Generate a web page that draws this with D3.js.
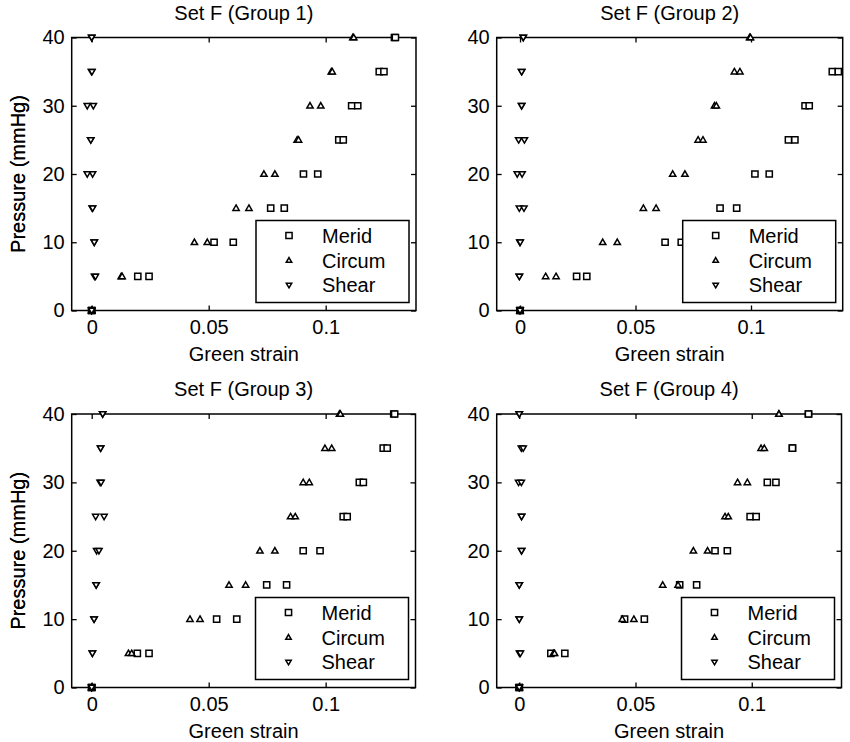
<!DOCTYPE html>
<html>
<head>
<meta charset="utf-8">
<script src="https://cdn.jsdelivr.net/npm/d3@7"></script>
<style>
  html, body { margin: 0; padding: 0; background: #fff; }
  svg { display: block; font-family: Arial, "Liberation Sans", Helvetica, sans-serif; }
</style>
</head>
<body>
<svg id="chart" width="850" height="742"></svg>
<script>
// Pressure steps shared by every group (mmHg)
const pressure = [0, 5, 10, 15, 20, 25, 30, 35, 40];

// Green strain, two measurements per pressure step: [first, second]
const g1Merid  = [[0,0],[0.0197,0.0245],[0.0523,0.0605],[0.0765,0.0823],[0.0905,0.0966],[0.1056,0.1075],[0.1111,0.1137],[0.1229,0.1249],[0.1294,0.1298]];
const g1Circum = [[0,0],[0.0126,0.0130],[0.0439,0.0494],[0.0617,0.0672],[0.0736,0.0783],[0.0878,0.0884],[0.0933,0.0979],[0.1024,0.1028],[0.1116,0.1120]];
const g1Shear  = [[0,0],[0.0012,0.0016],[0.0011,0.0011],[0.0002,0.0004],[-0.0019,0.0004],[-0.0004,-0.0004],[-0.0019,0.0007],[-0.0001,0.0001],[0,0]];

// Group 2 meridional strain at 40 mmHg lies beyond the x-limit
const g2Merid  = [[0,0],[0.0245,0.0289],[0.0628,0.0698],[0.0866,0.0938],[0.1017,0.1079],[0.1162,0.1190],[0.1234,0.1252],[0.1352,0.1378],[null,null]];
const g2Circum = [[0,0],[0.0111,0.0156],[0.0358,0.0421],[0.0534,0.0589],[0.0661,0.0714],[0.0771,0.0792],[0.0842,0.0850],[0.0928,0.0952],[0.0994,0.0998]];
const g2Shear  = [[0,0],[-0.0003,-0.0003],[-0.0001,0.0001],[-0.0003,0.0017],[-0.0012,0.0009],[-0.0006,0.0019],[0.0007,0.0007],[0.0007,0.0007],[0.0014,0.0014]];

const g3Merid  = [[0,0],[0.0195,0.0245],[0.0534,0.0620],[0.0748,0.0833],[0.0904,0.0976],[0.1075,0.1092],[0.1144,0.1161],[0.1246,0.1263],[0.1291,0.1295]];
const g3Circum = [[0,0],[0.0157,0.0171],[0.0420,0.0463],[0.0587,0.0658],[0.0719,0.0783],[0.0850,0.0870],[0.0904,0.0930],[0.0997,0.1026],[0.1059,0.1063]];
const g3Shear  = [[0,0],[0.0003,0.0003],[0.0010,0.0010],[0.0019,0.0019],[0.0021,0.0031],[0.0017,0.0053],[0.0036,0.0040],[0.0038,0.0038],[0.0047,0.0047]];

const g4Merid  = [[0,0],[0.0136,0.0196],[0.0453,0.0538],[0.0690,0.0763],[0.0842,0.0895],[0.0993,0.1019],[0.1067,0.1104],[0.1175,0.1175],[0.1244,0.1244]];
const g4Circum = [[0,0],[0.0147,0.0152],[0.0443,0.0493],[0.0617,0.0683],[0.0749,0.0810],[0.0885,0.0899],[0.0939,0.0981],[0.1040,0.1054],[0.1117,0.1117]];
const g4Shear  = [[0,0],[0.0001,0.0005],[0,0],[0,0],[0.0010,0.0010],[0.0010,0.0010],[-0.0003,0.0009],[0.0009,0.0017],[0,0]];

const titles = ["Set F (Group 1)", "Set F (Group 2)", "Set F (Group 3)", "Set F (Group 4)"];
const seriesNames = ["Merid", "Circum", "Shear"];
const xTicks = [0, 0.05, 0.1];
const yTicks = [0, 10, 20, 30, 40];
const xLimits = [[-0.00855, 0.1386], [-0.0101, 0.1397], [-0.00855, 0.1384], [-0.0097, 0.1386]];
const yLimits = [0, 40];

const groups = [
  [g1Merid, g1Circum, g1Shear],
  [g2Merid, g2Circum, g2Shear],
  [g3Merid, g3Circum, g3Shear],
  [g4Merid, g4Circum, g4Shear]
];

// Subplot frames (left, top, right, bottom)
const frames = [
  [71.7, 37.5, 416, 310.5],
  [496.7, 37.5, 842.7, 310.5],
  [71.7, 414, 415.5, 687.5],
  [496.7, 414, 841.5, 687.5]
];

const svg = d3.select("#chart");
const FONT = 20;

// Marker shapes: square, up-triangle, down-triangle
function markerPath(kind, s) {
  if (kind === 0) return `M${-s},${-s}H${s}V${s}H${-s}Z`;
  if (kind === 1) return `M0,${-s * 1.05}L${s * 1.05},${s * 0.75}L${-s * 1.05},${s * 0.75}Z`;
  return `M0,${s * 1.05}L${s * 1.05},${-s * 0.75}L${-s * 1.05},${-s * 0.75}Z`;
}

groups.forEach((series, gi) => {
  const [L, T, R, B] = frames[gi];
  const w = R - L, h = B - T;
  const g = svg.append("g").attr("transform", `translate(${L},${T})`);

  const x = d3.scaleLinear().domain(xLimits[gi]).range([0, w]);
  const y = d3.scaleLinear().domain(yLimits).range([h, 0]);

  const fmt = d => d === 0 ? "0" : String(d);

  // Axes with inward ticks on all four sides
  const styleAxis = sel => {
    sel.select(".domain").remove();
    sel.selectAll(".tick line").attr("stroke", "#000").attr("stroke-width", 1.3);
    sel.selectAll(".tick text").attr("fill", "#000").style("font-size", FONT + "px");
  };
  g.append("g").attr("transform", `translate(0,${h})`)
    .call(d3.axisBottom(x).tickValues(xTicks).tickFormat(fmt).tickSizeInner(-5).tickSizeOuter(0).tickPadding(9))
    .call(styleAxis);
  g.append("g")
    .call(d3.axisTop(x).tickValues(xTicks).tickFormat("").tickSizeInner(-5).tickSizeOuter(0))
    .call(styleAxis);
  g.append("g")
    .call(d3.axisLeft(y).tickValues(yTicks).tickFormat(fmt).tickSizeInner(-5).tickSizeOuter(0).tickPadding(7))
    .call(styleAxis);
  g.append("g").attr("transform", `translate(${w},0)`)
    .call(d3.axisRight(y).tickValues(yTicks).tickFormat("").tickSizeInner(-5).tickSizeOuter(0))
    .call(styleAxis);

  g.append("rect").attr("width", w).attr("height", h)
    .attr("fill", "none").attr("stroke", "#000").attr("stroke-width", 1.5);

  // Data markers
  series.forEach((vals, si) => {
    const pts = [];
    vals.forEach((pair, pi) => pair.forEach(v => { if (v !== null) pts.push([v, pressure[pi]]); }));
    g.append("g").selectAll("path").data(pts).join("path")
      .attr("transform", d => `translate(${x(d[0])},${y(d[1])})`)
      .attr("d", markerPath(si, si === 0 ? 3.1 : 3))
      .attr("fill", "#fff").attr("stroke", "#000").attr("stroke-width", 1.5);
  });

  // Legend box in the lower-right corner
  const lw = 153, lh = 82;
  const lg = g.append("g").attr("transform", `translate(${w - 7 - lw},${h - 8 - lh})`);
  lg.append("rect").attr("width", lw).attr("height", lh)
    .attr("fill", "#fff").attr("stroke", "#000").attr("stroke-width", 1.5);
  seriesNames.forEach((name, si) => {
    const ry = 15 + si * 24.8;
    lg.append("path").attr("transform", `translate(33,${ry})`)
      .attr("d", markerPath(si, si === 0 ? 3.1 : 2.6))
      .attr("fill", "#fff").attr("stroke", "#000").attr("stroke-width", 1.5);
    lg.append("text").attr("x", 66).attr("y", ry).attr("dy", "0.36em")
      .style("font-size", FONT + "px").text(name);
  });

  // Title and axis labels
  g.append("text").attr("x", w / 2).attr("y", -18).attr("text-anchor", "middle")
    .style("font-size", FONT + "px").text(titles[gi]);
  g.append("text").attr("x", w / 2).attr("y", h + 50).attr("text-anchor", "middle")
    .style("font-size", FONT + "px").text("Green strain");
  g.append("text").attr("transform", `translate(${25 - L},${h / 2}) rotate(-90)`)
    .attr("text-anchor", "middle").style("font-size", FONT + "px").text("Pressure (mmHg)");
});
</script>
</body>
</html>
